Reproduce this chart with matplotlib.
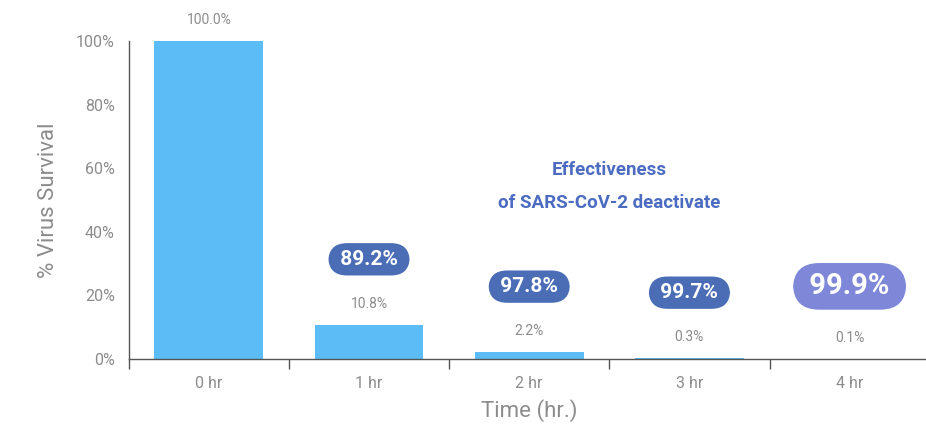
import matplotlib.pyplot as plt
import numpy as np

# data
times = ["0 hr", "1 hr", "2 hr", "3 hr", "4 hr"]
survival = [100.0, 10.8, 2.2, 0.3, 0.1]
reduction = [None, "89.2%", "97.8%", "99.7%", "99.9%"]
yticks = [0, 20, 40, 60, 80, 100]

GRAY = "#8c8c8c"
BAR = "#5cbdf6"
PILL = "#4a6db6"
PILL_LAST = "#7f88d8"

plt.rcParams['font.family'] = ['Roboto', 'DejaVu Sans']

fig = plt.figure(figsize=(9.26, 4.42), dpi=100)
ax = fig.add_axes([0.139, 0.188, 0.865, 0.719])

x = np.arange(len(times))
ax.bar(x, survival, width=0.68, color=BAR, zorder=2)

ax.set_xlim(-0.5, 4.5)
ax.set_ylim(0, 100)
ax.set_yticks(yticks)
ax.set_yticklabels([f"{v}%" for v in yticks], color=GRAY, fontsize=11.5)
ax.tick_params(axis='y', length=0, pad=10)

ax.set_xticks(x)
ax.set_xticklabels(times, color=GRAY, fontsize=11.5)
ax.tick_params(axis='x', which='major', length=0, pad=12)
ax.set_xticks(np.arange(-0.5, 4.6, 1.0), minor=True)
ax.tick_params(axis='x', which='minor', length=7, width=1, color="#555555", direction='out')

for s in ['top', 'right']:
    ax.spines[s].set_visible(False)
for s in ['left', 'bottom']:
    ax.spines[s].set_color("#555555")
    ax.spines[s].set_linewidth(1)

ax.set_ylabel("% Virus Survival", color=GRAY, fontsize=16, labelpad=12)
ax.set_xlabel("Time (hr.)", color=GRAY, fontsize=16, labelpad=6)

for i, v in enumerate(survival):
    ax.annotate(f"{v:.1f}%", (i, v), xytext=(0, 15), textcoords='offset points',
                ha='center', va='center', color=GRAY, fontsize=10)
    if reduction[i] is None:
        continue
    last = i == len(survival) - 1
    ax.annotate(" " + reduction[i] + " ", (i, v), xytext=(0, 52 if last else 47),
                textcoords='offset points',
                ha='center', va='center', color='white', fontweight='bold',
                fontsize=21 if last else 15,
                bbox=dict(boxstyle="round,pad=0.32,rounding_size=0.9",
                          fc=PILL_LAST if last else PILL, ec='none'))

ax.text(2.5, 59.5, "Effectiveness", ha='center', va='center', color="#4c6cc2",
        fontsize=13.5, fontweight='bold')
ax.text(2.5, 49, "of SARS-CoV-2 deactivate", ha='center', va='center', color="#4c6cc2",
        fontsize=13.5, fontweight='bold')

fig.savefig("out.png", dpi=100)
